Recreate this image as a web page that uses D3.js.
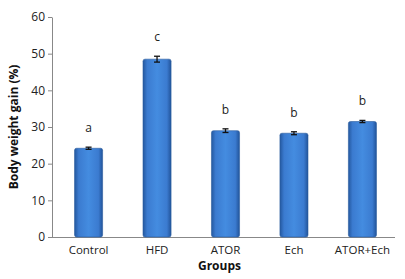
<!DOCTYPE html>
<html lang="en">
<head>
	<script src='https://d3js.org/d3.v7.min.js'></script>
	<style>
		body { margin: 0; background: #fff; }
		text { font-family: 'Open Sans', 'DejaVu Sans', sans-serif; }
	</style>
</head>
<body>
	<script>
		var width = 405,
			height = 279;

		// chart data
		var groups = ['Control', 'HFD', 'ATOR', 'Ech', 'ATOR+Ech'];
		var gain = [24.2, 48.5, 29.0, 28.3, 31.5];
		var errs = [0.3, 0.8, 0.5, 0.4, 0.3];
		var letters = ['a', 'c', 'b', 'b', 'b'];
		var yTicks = [0, 10, 20, 30, 40, 50, 60];

		var margin = {top: 17, right: 10, bottom: 42, left: 52};

		var svg = d3.select('body')
			.append('svg')
			.attr('width', width)
			.attr('height', height);

		// bar gradient, darker at the sides
		var grad = svg.append('defs').append('linearGradient')
			.attr('id', 'barFill')
			.attr('x1', '0%').attr('x2', '100%')
			.attr('y1', '0%').attr('y2', '0%');
		grad.append('stop').attr('offset', '0%').attr('stop-color', '#24589f');
		grad.append('stop').attr('offset', '15%').attr('stop-color', '#3b7bd0');
		grad.append('stop').attr('offset', '50%').attr('stop-color', '#448ce0');
		grad.append('stop').attr('offset', '85%').attr('stop-color', '#3b7bd0');
		grad.append('stop').attr('offset', '100%').attr('stop-color', '#22549a');

		var x = d3.scaleBand()
			.domain(groups)
			.range([margin.left + 2, width - margin.right + 2])
			.paddingInner(0.59)
			.paddingOuter(0.3);

		var y = d3.scaleLinear()
			.domain([0, 60])
			.range([height - margin.bottom, margin.top]);

		// y axis
		var yAxis = svg.append('g')
			.attr('transform', 'translate(' + margin.left + ',0)')
			.call(d3.axisLeft(y).tickValues(yTicks).tickSize(4).tickSizeOuter(0));
		yAxis.select('.domain').attr('stroke', '#888');
		yAxis.selectAll('.tick line').attr('stroke', '#888');
		yAxis.selectAll('.tick text').attr('font-size', 12).attr('fill', '#222').attr('x', -7);

		// x axis
		var xAxis = svg.append('g')
			.attr('transform', 'translate(0,' + y(0) + ')')
			.call(d3.axisBottom(x).tickSize(0).tickSizeOuter(0));
		xAxis.select('.domain').attr('stroke', '#888')
			.attr('d', 'M' + margin.left + ',0.5H' + (width - margin.right));
		xAxis.selectAll('.tick text').attr('font-size', 11.5).attr('fill', '#222').attr('dy', '1.2em');

		// bars
		svg.selectAll('.bar')
			.data(gain)
			.join('rect')
			.attr('class', 'bar')
			.attr('x', function(d, i) { return x(groups[i]); })
			.attr('y', function(d) { return y(d); })
			.attr('width', x.bandwidth())
			.attr('height', function(d) { return y(0) - y(d); })
			.attr('rx', 2)
			.attr('fill', 'url(#barFill)')
			.attr('stroke', '#2a5c9e')
			.attr('stroke-width', 0.6);

		// error bars
		var eb = svg.selectAll('.err')
			.data(gain)
			.join('g')
			.attr('class', 'err');
		eb.append('line')
			.attr('x1', function(d, i) { return x(groups[i]) + x.bandwidth() / 2; })
			.attr('x2', function(d, i) { return x(groups[i]) + x.bandwidth() / 2; })
			.attr('y1', function(d, i) { return y(d - errs[i]); })
			.attr('y2', function(d, i) { return y(d + errs[i]); })
			.attr('stroke', '#111').attr('stroke-width', 1.3);
		[-1, 1].forEach(function(s) {
			eb.append('line')
				.attr('x1', function(d, i) { return x(groups[i]) + x.bandwidth() / 2 - 3; })
				.attr('x2', function(d, i) { return x(groups[i]) + x.bandwidth() / 2 + 3; })
				.attr('y1', function(d, i) { return y(d + s * errs[i]); })
				.attr('y2', function(d, i) { return y(d + s * errs[i]); })
				.attr('stroke', '#111').attr('stroke-width', 1.3);
		});

		// significance letters
		svg.selectAll('.sig')
			.data(letters)
			.join('text')
			.attr('class', 'sig')
			.attr('x', function(d, i) { return x(groups[i]) + x.bandwidth() / 2; })
			.attr('y', function(d, i) { return y(gain[i] + errs[i]) - 15; })
			.attr('text-anchor', 'middle')
			.attr('font-size', 12)
			.attr('fill', '#222')
			.text(function(d) { return d; });

		// axis titles
		svg.append('text')
			.attr('x', (margin.left + width - margin.right) / 2 - 4)
			.attr('y', 270)
			.attr('text-anchor', 'middle')
			.attr('font-size', 12)
			.attr('font-weight', 'bold')
			.attr('fill', '#111')
			.text('Groups');

		svg.append('text')
			.attr('transform', 'translate(18,' + ((margin.top + y(0)) / 2) + ') rotate(-90)')
			.attr('text-anchor', 'middle')
			.attr('font-size', 12)
			.attr('font-weight', 'bold')
			.attr('fill', '#111')
			.text('Body weight gain (%)');
	</script>
</body>
</html>
